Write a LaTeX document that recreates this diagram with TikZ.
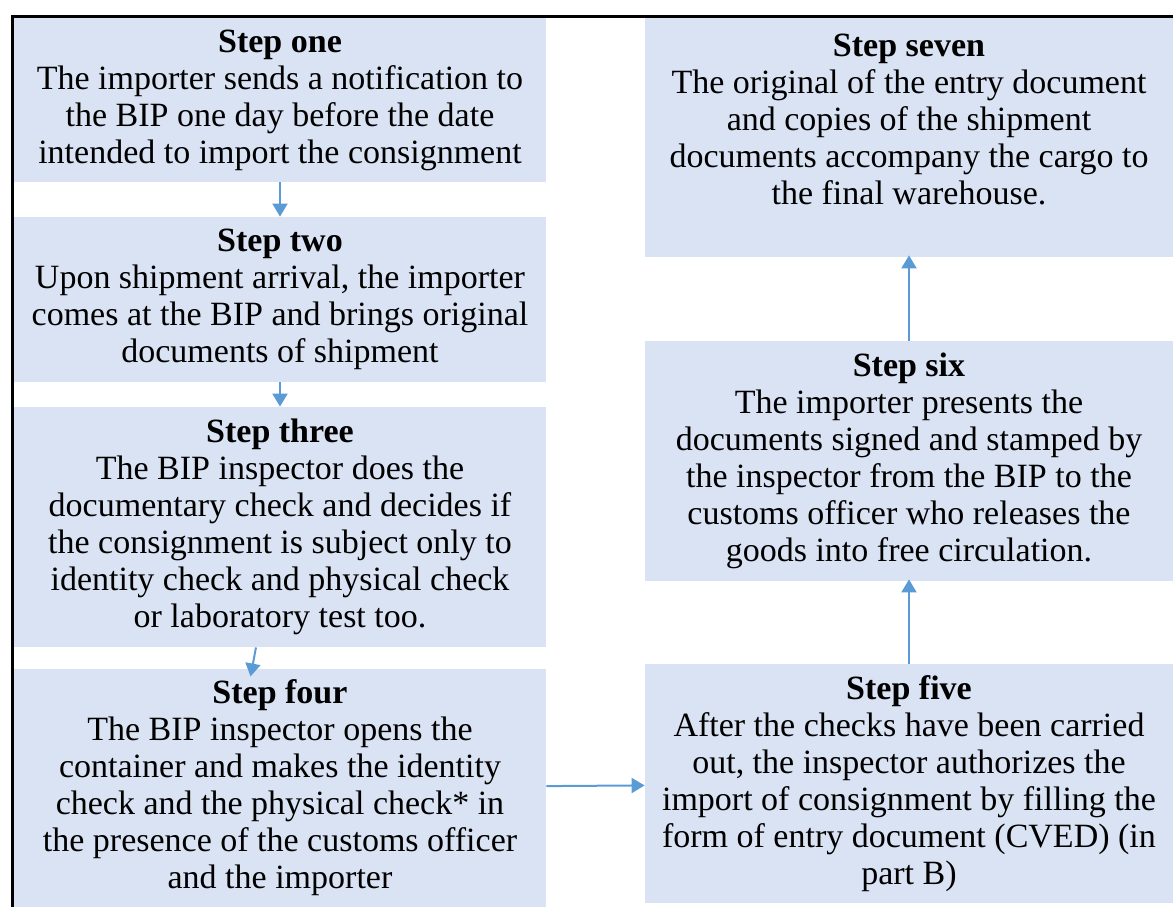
\documentclass[tikz,border=0pt]{standalone}
\usepackage{fontspec}
\setmainfont{Liberation Serif}
\usetikzlibrary{arrows.meta,positioning}
\definecolor{boxblue}{HTML}{DAE3F3}
\definecolor{arrblue}{HTML}{5B9BD5}
\tikzset{stepbox/.style={fill=boxblue, inner sep=0pt, align=center, font=\fontsize{17}{18.5}\selectfont}}
\tikzset{arr/.style={draw=arrblue, line width=1pt, -{Triangle[length=6.5pt,width=7.5pt]}}}

\begin{document}
\begin{tikzpicture}[x=0.5pt,y=-0.5pt]
			\useasboundingbox (0,0) rectangle (1173,907);
			\node[stepbox, minimum width=266pt, minimum height=82pt] (S1) at (280,100){\textbf{Step one}\\The importer sends a notification to\\the BIP one day before the date\\intended to import the consignment};
			\node[stepbox, minimum width=266pt, minimum height=82.5pt] (S2) at (280,299.5){\textbf{Step two}\\Upon shipment arrival, the importer\\comes at the BIP and brings original\\documents of shipment};
			\node[stepbox, minimum width=266pt, minimum height=120pt] (S3) at (280,527){\textbf{Step three}\\The BIP inspector does the\\documentary check and decides if\\the consignment is subject only to\\identity check and physical check\\or laboratory test too.};
			\node[stepbox, minimum width=266pt, minimum height=119pt] (S4) at (280,788){\textbf{Step four}\\The BIP inspector opens the\\container and makes the identity\\check and the physical check* in\\the presence of the customs officer\\and the importer};
			
			\node[stepbox, minimum width=264pt, minimum height=119.5pt] (S5) at (909,783.5){\textbf{Step five}\\After the checks have been carried\\out, the inspector authorizes the\\import of consignment by filling the\\form of entry document (CVED) (in\\part B)};
			\node[stepbox, minimum width=264pt, minimum height=120pt] (S6) at (909,461){\textbf{Step six}\\The importer presents the\\documents signed and stamped by\\the inspector from the BIP to the\\customs officer who releases the\\goods into free circulation.};
			\node[stepbox, minimum width=264pt, minimum height=119.5pt] (S7) at (909,137.5){\textbf{Step seven}\\The original of the entry document\\and copies of the shipment\\documents accompany the cargo to\\the final warehouse.\\\mbox{}};
			
			% frame on the left and top
			\draw[line width=1.5pt] (12.5,907) -- (12.5,16) -- (1173,16);
			
			\draw[arr] (S1) -- (S2);
			\draw[arr] (S2) -- (S3);
			\draw[arr, shorten >=-4pt] ([xshift=-12pt]S3.south) -- ([xshift=-14pt]S4.north);
			\draw[arr] (S4) -- (S5);
			\draw[arr, shorten >=-1pt] (S5) -- (S6);
			\draw[arr, shorten >=-1pt] (S6) -- (S7);
		\end{tikzpicture}
\end{document}
